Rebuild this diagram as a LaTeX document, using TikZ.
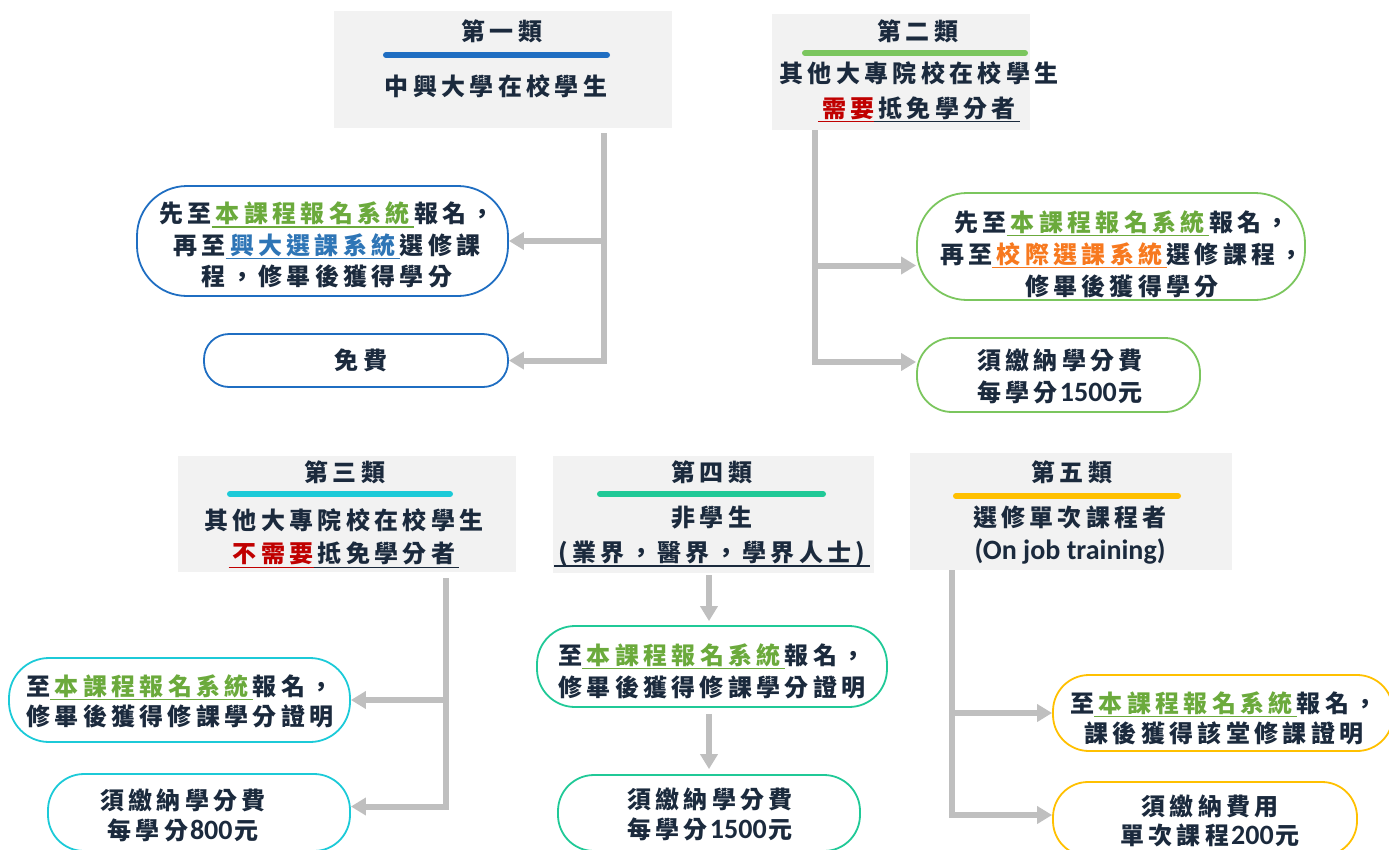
\documentclass[tikz,border=0pt]{standalone}
\usepackage{fontspec}
\usetikzlibrary{arrows.meta}
\newfontfamily\cjkf{Noto Sans CJK TC}[LetterSpace=18]
\newfontfamily\latf{Carlito}
\definecolor{ink}{HTML}{1B2A3D}
\definecolor{gfill}{HTML}{F2F2F2}
\definecolor{connc}{HTML}{BFBFBF}
\definecolor{cA}{HTML}{1F6EC2}
\definecolor{cB}{HTML}{7BC65E}
\definecolor{cC}{HTML}{1CCAD8}
\definecolor{cD}{HTML}{20C997}
\definecolor{cE}{HTML}{FFC000}
\definecolor{tgreen}{HTML}{6BAA3C}
\definecolor{tblue}{HTML}{2E75B6}
\definecolor{torange}{HTML}{F7791F}
\definecolor{tred}{HTML}{C00000}
\newlength\lsp \setlength\lsp{4.3pt}
\newcommand\Cf[2]{\cjkf\bfseries\fontsize{#1}{#2}\selectfont}
\newcommand\nm[1]{\kern2pt{\latf\bfseries\fontsize{28}{28}\selectfont #1}\kern2pt}
% \ul[trailing kern]{rule colour}{text colour}{text}
\newcommand\ul[4][\lsp]{\setbox0=\hbox{\kern\lsp\textcolor{#3}{#4}\kern#1}\rlap{\textcolor{#2}{\rule[-5pt]{\wd0}{1.3pt}}}\box0\color{ink}}
\tikzset{
  gbox/.style={fill=gfill, inner sep=0pt},
  pill/.style={draw=#1, line width=1.8pt, fill=white, inner sep=0pt},
  txt/.style={inner sep=0pt, text=ink, align=center, font=\Cf{24}{30}},
  bar/.style={line width=6pt, line cap=round},
  conn/.style={draw=connc, line width=6pt, -{Triangle[width=17pt,length=15pt]}}
}
\begin{document}
\begin{tikzpicture}[x=1pt,y=-1pt]
\useasboundingbox (0,0) rectangle (1389,849);
\clip (0,0) rectangle (1389,849);
% ---------- gray category boxes
\node[gbox, minimum width=338pt, minimum height=117pt] (b1) at (503,69.5) {};
\node[gbox, minimum width=258pt, minimum height=116pt] (b2) at (901,72) {};
\node[gbox, minimum width=338pt, minimum height=116pt] (b3) at (347,514) {};
\node[gbox, minimum width=321pt, minimum height=117pt] (b4) at (713.5,514.5) {};
\node[gbox, minimum width=322pt, minimum height=117pt] (b5) at (1071,511.5) {};
% ---------- junctions
\coordinate (j1) at (604,133);
\coordinate (j2) at (815,130);
\coordinate (j3) at (446,578);
\coordinate (c4) at (709,0);
\coordinate (j5) at (952,570);
% ---------- outcome boxes
\node[pill=cA, minimum width=371pt, minimum height=110pt, rounded corners=50pt] (o1a) at (322.5,241) {};
\node[pill=cA, minimum width=304pt, minimum height=53pt, rounded corners=25pt] (o1b) at (356,360.5) {};
\node[pill=cB, minimum width=388pt, minimum height=107pt, rounded corners=50pt] (o2a) at (1111,246.5) {};
\node[pill=cB, minimum width=283pt, minimum height=74pt, rounded corners=35pt] (o2b) at (1058.5,375) {};
\node[pill=cC, minimum width=341pt, minimum height=84pt, rounded corners=40pt] (o3a) at (179.5,700) {};
\node[pill=cC, minimum width=302pt, minimum height=77pt, rounded corners=36pt] (o3b) at (199,812.5) {};
\node[pill=cD, minimum width=350pt, minimum height=81pt, rounded corners=38pt] (o4a) at (712,666.5) {};
\node[pill=cD, minimum width=302pt, minimum height=76pt, rounded corners=36pt] (o4b) at (709,813) {};
\node[pill=cE, minimum width=340pt, minimum height=76pt, rounded corners=36pt] (o5a) at (1223,713) {};
\node[pill=cE, minimum width=304pt, minimum height=74pt, rounded corners=35pt] (o5b) at (1205,819) {};
% ---------- arrows
\draw[conn] (j1) |- (o1a.east);
\draw[conn] (j1) |- (o1b.east);
\draw[conn] (j2) |- ([yshift=-19pt]o2a.west);
\draw[conn] (j2) |- ([yshift=13pt]o2b.west);
\draw[conn] (j3) |- (o3a.east);
\draw[conn] (j3) |- ([yshift=6pt]o3b.east);
\draw[conn, shorten <=2pt, shorten >=4pt] (b4.south -| c4) -- (o4a.north -| c4);
\draw[conn, shorten <=6pt, shorten >=5pt] (o4a.south -| c4) -- (o4b.north -| c4);
\draw[conn] (j5) |- (o5a.west);
\draw[conn] (j5) |- ([yshift=4pt]o5b.west);
% ---------- category headers
\node[txt] (h1) at (502,31) {第一類};
\draw[bar, cA] (386,55) -- (607,55);
\node[txt] (s1) at (496,86) {中興大學在校學生};

\node[txt] (h2) at (918,31) {第二類};
\draw[bar, cB] (805,53) -- (1025,53);
\node[txt, font=\Cf{24}{35}] (s2) at (919,92) {其他大專院校在校學生\\\ul[0pt]{tred}{tred}{需要}\ul{ink}{ink}{抵免學分者}};

\node[txt] (h3) at (345,472) {第三類};
\draw[bar, cC] (230,494) -- (450,494);
\node[txt, font=\Cf{24}{33}] (s3) at (344,538.5) {其他大專院校在校學生\\\ul[0pt]{tred}{tred}{不需要}\ul{ink}{ink}{抵免學分者}};

\node[txt] (h4) at (712,472) {第四類};
\draw[bar, cD] (600,494) -- (823,494);
\node[txt, font=\Cf{24}{35}] (s4) at (712,536.5) {非學生\\\ul{ink}{ink}{(業界，醫界，學界人士)}};

\node[txt] (h5) at (1072,472) {第五類};
\draw[bar, cE] (956,496) -- (1178,496);
\node[txt, font=\Cf{24}{33}] (s5) at (1070,535.5) {選修單次課程者\\{\latf\bfseries\fontsize{28}{28}\selectfont (On job training)}};
% ---------- outcome texts
\node[txt, font=\Cf{24}{31.5}] (t1a) at (327,245) {先至\ul{tgreen}{tgreen}{本課程報名系統}報名，\\再至\ul{tblue}{tblue}{興大選課系統}選修課\\程，修畢後獲得學分};
\node[txt] (t1b) at (361,360) {免費};
\node[txt, font=\Cf{24}{32}] (t2a) at (1122,254) {先至\ul{tgreen}{tgreen}{本課程報名系統}報名，\\再至\ul{torange}{torange}{校際選課系統}選修課程，\\修畢後獲得學分};
\node[txt, font=\Cf{24}{32}] (t2b) at (1060,376) {須繳納學分費\\每學分\nm{1500}元};
\node[txt] (t3a) at (180,701) {至\ul{tgreen}{tgreen}{本課程報名系統}報名，\\修畢後獲得修課學分證明};
\node[txt] (t3b) at (183,815) {須繳納學分費\\每學分\nm{800}元};
\node[txt, font=\Cf{24}{32}] (t4a) at (712,671) {至\ul{tgreen}{tgreen}{本課程報名系統}報名，\\修畢後獲得修課學分證明};
\node[txt] (t4b) at (710,814.5) {須繳納學分費\\每學分\nm{1500}元};
\node[txt] (t5a) at (1224,718) {至\ul{tgreen}{tgreen}{本課程報名系統}報名，\\課後獲得該堂修課證明};
\node[txt, font=\Cf{24}{29}] (t5b) at (1210,820.5) {須繳納費用\\單次課程\nm{200}元};
\end{tikzpicture}
\end{document}
